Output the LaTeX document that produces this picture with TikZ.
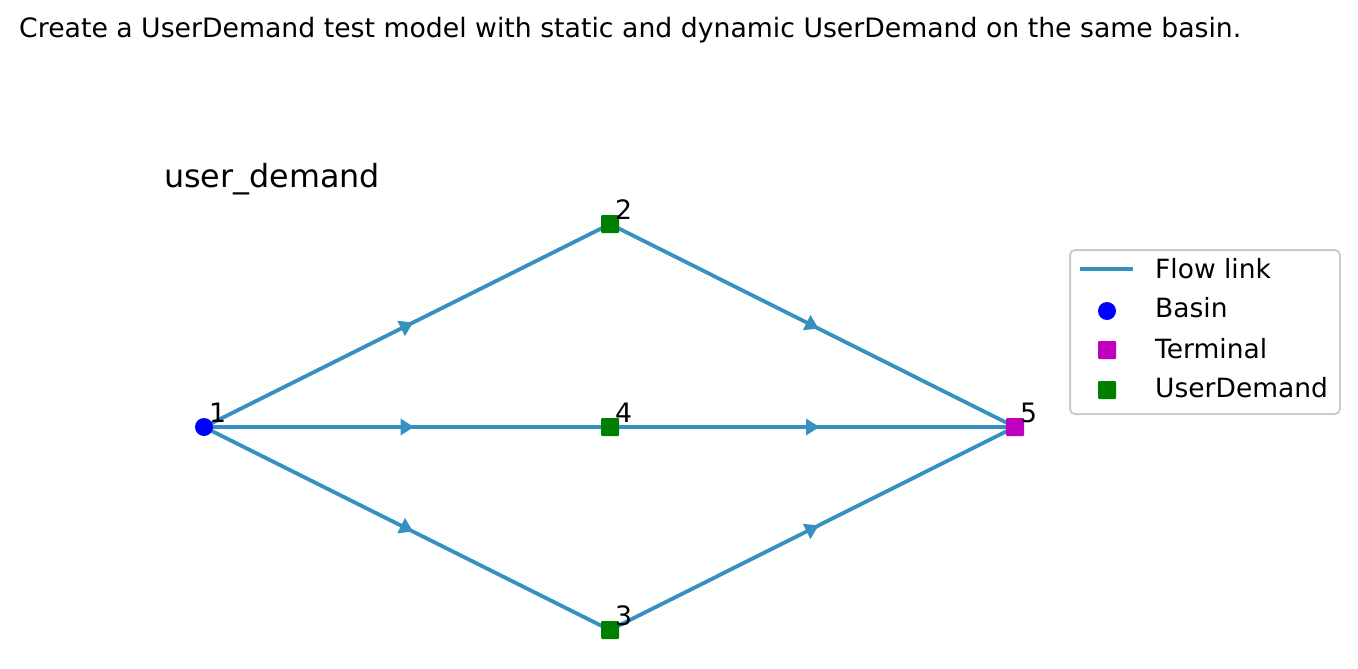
\documentclass[tikz,border=0pt]{standalone}
\usepackage{fontspec}
\setmainfont{DejaVu Sans}
\usetikzlibrary{arrows.meta,decorations.markings,backgrounds}

\definecolor{flowblue}{RGB}{54,144,192}
\definecolor{basinblue}{RGB}{0,0,255}
\definecolor{termmag}{RGB}{191,0,191}
\definecolor{udgreen}{RGB}{0,128,0}
\definecolor{legendgray}{RGB}{204,204,204}

\tikzset{
  x=1pt, y=-1pt,
  basinmark/.style={circle, fill=basinblue, draw=none, inner sep=0pt, minimum size=18pt},
  termmark/.style={rectangle, rounded corners=1pt, fill=termmag, draw=none, inner sep=0pt, minimum size=18pt},
  udmark/.style={rectangle, rounded corners=1pt, fill=udgreen, draw=none, inner sep=0pt, minimum size=18pt},
  flowlink/.style={draw=flowblue, line width=3.8pt,
    postaction={decorate, decoration={markings,
      mark=at position 0.5 with {\arrow[xshift=7pt, flowblue]{Triangle[length=13.5pt,width=16pt]}}}}},
  idlabel/.style={anchor=base west, inner sep=0pt, font=\fontsize{26.7}{30}\selectfont},
  legtext/.style={anchor=base west, inner sep=0pt, font=\fontsize{26.5}{30}\selectfont},
}

\begin{document}
\begin{tikzpicture}
  \useasboundingbox (0,0) rectangle (1358,669);

  % caption and subplot title
  \node[anchor=base west, inner sep=0pt, font=\fontsize{26.7}{30}\selectfont] (caption) at (19,38)
    {Create a UserDemand test model with static and dynamic UserDemand on the same basin.};
  \node[anchor=base west, inner sep=0pt, font=\fontsize{31.8}{36}\selectfont] (axtitle) at (164,187)
    {user\_demand};

  % nodes
  \node[basinmark] (n1) at (204,427) {};
  \node[udmark]    (n2) at (610,224) {};
  \node[udmark]    (n3) at (610,630) {};
  \node[udmark]    (n4) at (610,427) {};
  \node[termmark]  (n5) at (1015,427) {};

  % node ids
  \foreach \n/\t in {n1/1, n2/2, n3/3, n4/4, n5/5}
    \node[idlabel] (lab\t) at ([shift={(5pt,5pt)}]\n.center) {\t};

  % flow links
  \begin{scope}[on background layer]
    \path[flowlink] (n1.center) -- (n2.center);
    \path[flowlink] (n1.center) -- (n4.center);
    \path[flowlink] (n1.center) -- (n3.center);
    \path[flowlink] (n2.center) -- (n5.center);
    \path[flowlink] (n4.center) -- (n5.center);
    \path[flowlink] (n3.center) -- (n5.center);
  \end{scope}

  % legend
  \node[draw=legendgray, line width=2pt, rounded corners=5pt, fill=white,
        minimum width=270pt, minimum height=164pt, anchor=north west, inner sep=0pt]
        (legend) at (1069,249) {};
  \coordinate (lgA) at (1080,269);
  \coordinate (lgB) at (1133,269);
  \draw[flowblue, line width=3.8pt] (lgA) -- (lgB);
  \node[basinmark] (lgbasin) at (1107,311) {};
  \node[termmark]  (lgterm)  at (1107,350) {};
  \node[udmark]    (lgud)    at (1107,390) {};
  \node[legtext] (lt1) at (1155,278) {Flow link};
  \node[legtext] (lt2) at (1155,317) {Basin};
  \node[legtext] (lt3) at (1155,358) {Terminal};
  \node[legtext] (lt4) at (1155,397) {UserDemand};
\end{tikzpicture}
\end{document}
